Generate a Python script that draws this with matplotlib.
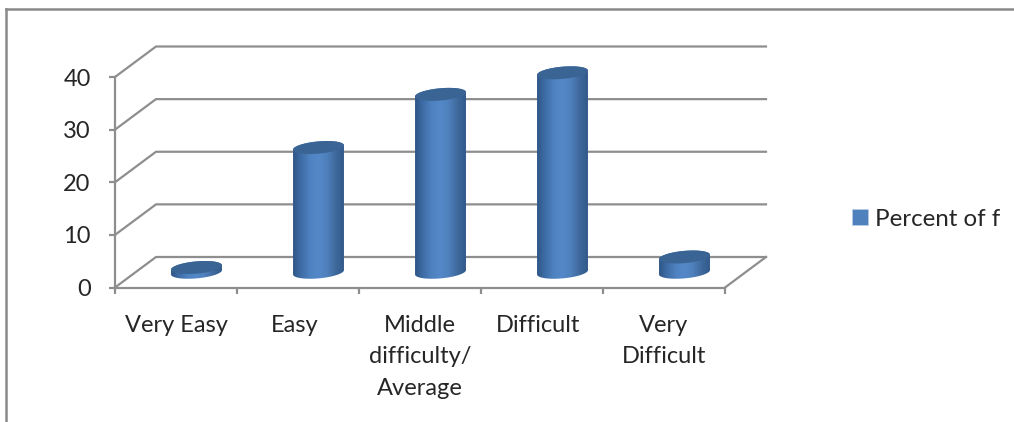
#!/usr/bin/env python3
import numpy as np
import matplotlib
matplotlib.use("Agg")
import matplotlib.pyplot as plt
from matplotlib.colors import LinearSegmentedColormap
from matplotlib.lines import Line2D
from matplotlib.patches import Patch, Polygon

categories = ["Very Easy", "Easy", "Middle\ndifficulty/\nAverage", "Difficult", "Very\nDifficult"]
percent_of_f = [0.9, 23.7, 33.8, 37.9, 2.9]
y_ticks = [0, 10, 20, 30, 40]
series_name = "Percent of f"

GRID = "#8e8e8e"
TEXT = "#262626"
W, H = 1014, 422

plt.rcParams["font.family"] = ["Lato", "DejaVu Sans"]

fig = plt.figure(figsize=(W / 100, H / 100), dpi=100)
ax = fig.add_axes([115 / W, 1 - 287.5 / H, 610 / W, 210.5 / H])
ax.set_xlim(0, 5)
ax.set_ylim(0, 40)

# oblique depth of the 3D box, in data units
px_x = 5 / 610
px_y = 40 / 210.5
depth_x = 41 * px_x
depth_y = 30.5 * px_y

# outer frame
frame = dict(color="#8a8a8a", lw=1.8, transform=fig.transFigure)
fig.add_artist(Line2D([6 / W, 6 / W], [0, 1 - 9 / H], **frame))
fig.add_artist(Line2D([6 / W, 1], [1 - 9 / H, 1 - 9 / H], **frame))

# back wall gridlines and the slanted side wall
for v in y_ticks:
    ax.plot([0, depth_x, 5 + depth_x], [v, v + depth_y, v + depth_y],
            color=GRID, lw=1.6, clip_on=False, zorder=1, solid_joinstyle="miter")
ax.plot([5, 5 + depth_x], [0, depth_y], color=GRID, lw=1.6, clip_on=False, zorder=1)

cyl_cmap = LinearSegmentedColormap.from_list(
    "cyl", ["#2f5788", "#3f6ea8", "#4f82c0", "#5488c8", "#4f80bc", "#3f6a9e", "#315a8a"])
gradient = np.linspace(0, 1, 128).reshape(1, -1)


def ring(cx, cy, t):
    # circle on the floor plane, sheared by the box depth
    x = cx + 24 * px_x * np.cos(t) + 8.5 * px_x * np.sin(t)
    y = cy + 6.5 * px_y * np.sin(t)
    return x, y


for i, value in enumerate(percent_of_f):
    cx = i + 0.5 + depth_x / 2
    base = depth_y / 2
    top = base + value
    t = np.linspace(0, 2 * np.pi, 181)
    xt, yt = ring(cx, top, t)
    xb, yb = ring(cx, base, t)

    # body outline: lower half of the bottom ring joined to the top ring
    right = np.argmax(xb)
    left = np.argmin(xb)
    low = np.arange(left, right + 1) if left < right else np.r_[left:181, 0:right + 1]
    high = np.r_[right:left + 1] if right < left else np.r_[right:181, 0:left + 1]
    body = np.column_stack([np.r_[xb[low], xt[high]], np.r_[yb[low], yt[high]]])

    x0, x1 = xb.min(), xb.max()
    im = ax.imshow(gradient, extent=[x0, x1, base - 5, top + 5], aspect="auto",
                   cmap=cyl_cmap, zorder=3)
    # tallest cylinder pokes out above the axes box
    im.set_clip_path(Polygon(body, closed=True, transform=ax.transData))
    im.set_clip_box(fig.bbox)
    ax.fill(xt, yt, color="#3a6494", lw=0, zorder=4, clip_on=False)

ax.set_xlim(0, 5)
ax.set_ylim(0, 40)

for side in ["top", "right"]:
    ax.spines[side].set_visible(False)
for side in ["left", "bottom"]:
    ax.spines[side].set_color(GRID)
    ax.spines[side].set_linewidth(1.6)
ax.patch.set_visible(False)

ax.set_yticks(y_ticks)
ax.set_xticks(range(6))
ax.set_xticklabels([])
# category labels sit a touch left of the slot centres for the short words
label_x = np.arange(5) + 0.5 + np.array([0, -3, 0, -4, 0]) * px_x
ax.set_xticks(label_x, categories, minor=True)
ax.tick_params(axis="both", which="major", length=4.5, width=1.6, color=GRID)
ax.tick_params(axis="y", labelsize=17, labelcolor=TEXT, pad=13)
ax.tick_params(axis="x", which="minor", length=0, labelsize=17, labelcolor=TEXT, pad=19.5)
for label in ax.get_xticklabels(minor=True):
    label.set_linespacing(1.63)

handle = Patch(facecolor="#4f81bd", edgecolor="#b9cde5", lw=0.5)
fig.legend([handle], [series_name], loc="center left", frameon=False,
           bbox_to_anchor=(852 / W, 1 - 219 / H), fontsize=17.4, labelcolor=TEXT,
           handlelength=0.65, handleheight=0.65, handletextpad=0.3, borderpad=0,
           borderaxespad=0)

fig.savefig("out.png", dpi=100, facecolor="white")
